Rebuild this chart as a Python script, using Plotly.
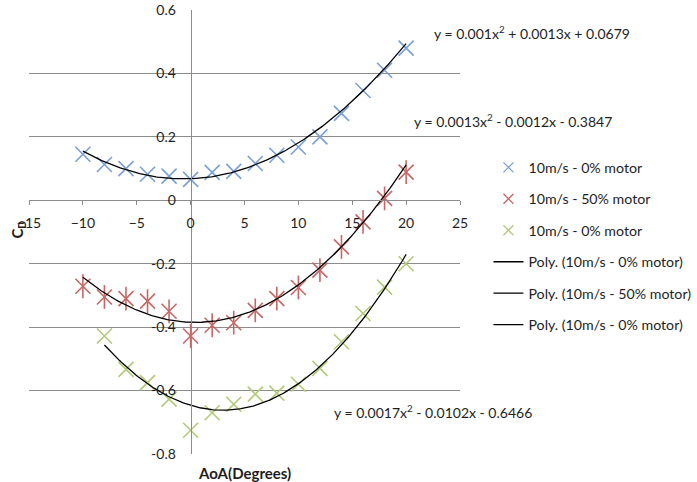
import numpy as np
import plotly.graph_objects as go

# Angle of attack (degrees) and drag coefficient readings
aoa = [-10, -8, -6, -4, -2, 0, 2, 4, 6, 8, 10, 12, 14, 16, 18, 20]
cd_0 = [0.145, 0.113, 0.100, 0.082, 0.076, 0.066, 0.088, 0.091,
        0.116, 0.142, 0.168, 0.200, 0.274, 0.346, 0.410, 0.480]
cd_50 = [-0.271, -0.305, -0.310, -0.318, -0.350, -0.428, -0.394, -0.386,
         -0.347, -0.310, -0.275, -0.220, -0.147, -0.068, 0.006, 0.089]

aoa_b = [-8, -6, -4, -2, 0, 2, 4, 6, 8, 10, 12, 14, 16, 18, 20]
cd_0b = [-0.428, -0.533, -0.575, -0.627, -0.725, -0.670, -0.643, -0.611,
         -0.608, -0.580, -0.530, -0.446, -0.357, -0.274, -0.200]

# Second-order polynomial trendline coefficients (a, b, c) for y = ax^2 + bx + c
fit_0 = [0.001, 0.0013, 0.0679]
fit_50 = [0.0013, -0.0012, -0.3847]
fit_0b = [0.0017, -0.0102, -0.6466]

names = ["10m/s - 0% motor", "10m/s - 50% motor", "10m/s - 0% motor"]
x_ticks = [-15, -10, -5, 0, 5, 10, 15, 20, 25]
y_ticks = [-0.8, -0.6, -0.4, -0.2, 0, 0.2, 0.4, 0.6]
y_labels = ["-0.8", "-0.6", "-0.4", "-0.2", "0", "0.2", "0.4", "0.6"]

BLUE = "#7a9fd6"
RED = "#c56866"
GREEN = "#b2ca78"
FONT = "Lato"
TXT = "#1e1e1e"
GRID = "#8c8c8c"


def equation(c):
    a, b, k = c

    def term(v, suffix):
        sign = "-" if v < 0 else "+"
        return f" {sign} {abs(v):g}{suffix}"

    return f"y = {a:g}x<sup>2</sup>" + term(b, "x") + term(k, "")


def poly_curve(xs, c):
    xx = np.linspace(min(xs), max(xs), 200)
    return xx, np.polyval(c, xx)


fig = go.Figure()

# Measured points (plot markers); legend entries use smaller symbols below
mk = dict(size=15, line=dict(width=1.6))
fig.add_trace(go.Scatter(
    x=aoa, y=cd_0, mode="markers", showlegend=False, legendgroup="a",
    marker=dict(symbol="x-thin-open", color=BLUE, **mk)))
fig.add_trace(go.Scatter(
    x=aoa, y=cd_50, mode="markers", showlegend=False, legendgroup="b",
    marker=dict(symbol="x-thin-open", color=RED, **mk)))
fig.add_trace(go.Scatter(
    x=aoa, y=cd_50, mode="markers", showlegend=False, legendgroup="b",
    marker=dict(symbol="line-ns-open", color=RED, size=17, line=dict(width=1.6))))
fig.add_trace(go.Scatter(
    x=aoa_b, y=cd_0b, mode="markers", showlegend=False, legendgroup="c",
    marker=dict(symbol="x-thin-open", color=GREEN, **mk)))

lg = dict(size=10, line=dict(width=1.3))
for nm, col, g in [(names[0], BLUE, "a"), (names[1], RED, "b"), (names[2], GREEN, "c")]:
    fig.add_trace(go.Scatter(
        x=[None], y=[None], mode="markers", name=nm, legendgroup=g,
        marker=dict(symbol="x-thin-open", color=col, **lg)))

for (xs, c, nm, g) in [(aoa, fit_0, names[0], "d"),
                       (aoa, fit_50, names[1], "e"),
                       (aoa_b, fit_0b, names[2], "f")]:
    xx, yy = poly_curve(xs, c)
    fig.add_trace(go.Scatter(
        x=xx, y=yy, mode="lines", name=f"Poly. ({nm})", legendgroup=g,
        line=dict(color="black", width=1.3)))

# Trendline equations
for c, px, py in [(fit_0, 0.935, 0.95), (fit_50, 0.889, 0.752), (fit_0b, 0.703, 0.095)]:
    fig.add_annotation(text=equation(c), xref="paper", yref="paper",
                       x=px, y=py, xanchor="left", yanchor="middle",
                       showarrow=False, font=dict(family=FONT, size=14, color=TXT))

# Axis titles
fig.add_annotation(text="<b>C<sub>D</sub></b>", xref="paper", yref="paper",
                   x=-0.026, y=0.505, textangle=-90, showarrow=False,
                   xanchor="center", yanchor="middle",
                   font=dict(family=FONT, size=15, color=TXT))
fig.add_annotation(text="<b>AoA(Degrees)</b>", xref="paper", yref="paper",
                   x=0.5, y=-0.042, showarrow=False,
                   xanchor="center", yanchor="middle",
                   font=dict(family=FONT, size=15, color=TXT))

fig.update_layout(
    width=697, height=482,
    margin=dict(l=29, r=237, t=10, b=28, autoexpand=False),
    paper_bgcolor="white", plot_bgcolor="white",
    font=dict(family=FONT, size=14, color=TXT),
    showlegend=True,
    legend=dict(x=1.066, y=0.681, xanchor="left", yanchor="top",
                tracegroupgap=10,
                font=dict(family=FONT, size=14.2, color=TXT),
                bgcolor="rgba(0,0,0,0)"),
    xaxis=dict(range=[-15, 25], tickvals=x_ticks, showgrid=False, zeroline=False,
               showline=True, linecolor=GRID, linewidth=1,
               ticks="outside", ticklen=4, tickcolor=GRID,
               anchor="free", position=0.8 / 1.4, ticklabelstandoff=6,
               tickfont=dict(family=FONT, size=14, color=TXT)),
    yaxis=dict(range=[-0.8, 0.6], tickvals=y_ticks, ticktext=y_labels,
               showgrid=True, gridcolor=GRID, gridwidth=1, zeroline=False,
               showline=True, linecolor=GRID, linewidth=1, ticks="",
               anchor="free", position=15 / 40, ticklabelstandoff=12,
               tickfont=dict(family=FONT, size=14, color=TXT)),
)

fig.write_html("out.html")
